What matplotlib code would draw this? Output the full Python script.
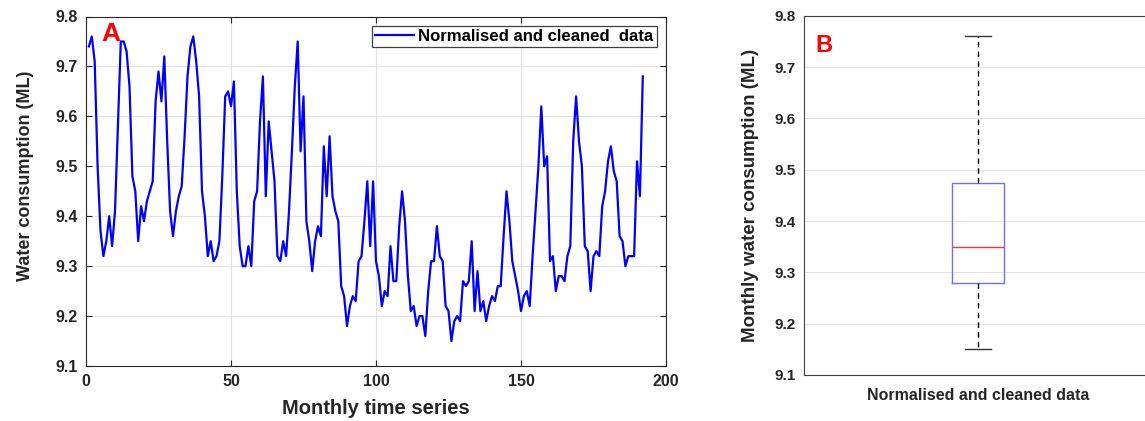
import matplotlib
matplotlib.use("Agg")
import matplotlib.pyplot as plt
import numpy as np

# ---- data ----
months = list(range(1, 193))
consumption = [
    9.74, 9.76, 9.71, 9.50, 9.37, 9.32, 9.35, 9.40, 9.34, 9.41,
    9.58, 9.75, 9.75, 9.73, 9.66, 9.48, 9.45, 9.35, 9.42, 9.39,
    9.43, 9.45, 9.47, 9.63, 9.69, 9.63, 9.72, 9.55, 9.41, 9.36,
    9.41, 9.44, 9.46, 9.56, 9.68, 9.74, 9.76, 9.71, 9.64, 9.45,
    9.40, 9.32, 9.35, 9.31, 9.32, 9.35, 9.48, 9.64, 9.65, 9.62,
    9.67, 9.45, 9.34, 9.30, 9.30, 9.34, 9.30, 9.43, 9.45, 9.59,
    9.68, 9.44, 9.59, 9.53, 9.47, 9.32, 9.31, 9.35, 9.32, 9.41,
    9.53, 9.66, 9.75, 9.53, 9.64, 9.39, 9.35, 9.29, 9.35, 9.38,
    9.36, 9.54, 9.44, 9.56, 9.44, 9.41, 9.39, 9.26, 9.24, 9.18,
    9.22, 9.24, 9.23, 9.31, 9.32, 9.39, 9.47, 9.34, 9.47, 9.31,
    9.28, 9.22, 9.25, 9.24, 9.34, 9.27, 9.27, 9.38, 9.45, 9.39,
    9.28, 9.21, 9.22, 9.18, 9.20, 9.20, 9.16, 9.25, 9.31, 9.31,
    9.38, 9.32, 9.31, 9.22, 9.21, 9.15, 9.19, 9.20, 9.19, 9.27,
    9.26, 9.27, 9.35, 9.21, 9.29, 9.21, 9.23, 9.19, 9.22, 9.24,
    9.23, 9.26, 9.26, 9.36, 9.45, 9.39, 9.31, 9.28, 9.25, 9.21,
    9.24, 9.25, 9.22, 9.32, 9.41, 9.50, 9.62, 9.50, 9.52, 9.31,
    9.32, 9.25, 9.28, 9.28, 9.27, 9.32, 9.34, 9.55, 9.64, 9.55,
    9.50, 9.34, 9.33, 9.25, 9.32, 9.33, 9.32, 9.42, 9.45, 9.51,
    9.54, 9.49, 9.47, 9.36, 9.35, 9.30, 9.32, 9.32, 9.32, 9.51,
    9.44, 9.68,
]
series_label = "Normalised and cleaned  data"
box_label = "Normalised and cleaned data"
box_whislo = 9.15
box_q1 = 9.28
box_med = 9.35
box_q3 = 9.475
box_whishi = 9.76
yticks = [9.1, 9.2, 9.3, 9.4, 9.5, 9.6, 9.7, 9.8]
xticks_a = [0, 50, 100, 150, 200]

plt.rcParams['font.family'] = ['Liberation Sans', 'DejaVu Sans']
axcol = '#262626'
gridcol = '#e3e3e3'

fig = plt.figure(figsize=(11.45, 4.21), dpi=100)

# ---- Panel A ----
ax = fig.add_axes([86/1145, 1-366/421, 580/1145, 349.5/421])
ax.plot(months, consumption, color='#0000ff', lw=1.6, label=series_label)
ax.set_xlim(0, 200)
ax.set_ylim(9.1, 9.8)
ax.set_xticks(xticks_a)
ax.set_yticks(yticks)
ax.set_yticklabels([f"{v:.1f}" for v in yticks])
ax.grid(True, color=gridcol, lw=0.8)
ax.set_axisbelow(True)
for s in ax.spines.values():
    s.set_color(axcol)
    s.set_linewidth(0.8)
ax.tick_params(direction='in', length=4, width=0.8, color=axcol,
               top=True, right=True, labelsize=11.5, labelcolor='#262626', pad=6)
for lab in ax.get_xticklabels() + ax.get_yticklabels():
    lab.set_fontweight('bold')
ax.set_xlabel("Monthly time series", fontsize=14.5, fontweight='bold', color='#262626', labelpad=7)
ax.set_ylabel("Water consumption (ML)", fontsize=13, fontweight='bold', color='#262626')
ax.yaxis.set_label_coords(-0.09, 0.545)
leg = ax.legend(loc='upper right', prop={'weight': 'bold', 'size': 12.1},
                fancybox=False, edgecolor='#404040', framealpha=1,
                handlelength=2.3, handletextpad=0.25, borderpad=0.2,
                borderaxespad=0.55)
leg.get_frame().set_linewidth(0.9)
ax.annotate("A", xy=(0.026, 0.985), xycoords='axes fraction', ha='left', va='top',
            fontsize=19, fontweight='bold', color='#ff0000')

# ---- Panel B ----
bx = fig.add_axes([804/1145, 1-375/421, 348/1145, 359.3/421])
stats = [dict(med=box_med, q1=box_q1, q3=box_q3, whislo=box_whislo,
              whishi=box_whishi, label=box_label, fliers=[])]
bx.bxp(stats, positions=[1], widths=0.15, showfliers=False,
       boxprops=dict(color='#6f6fff', lw=1.0),
       medianprops=dict(color='#ff3030', lw=1.0),
       whiskerprops=dict(color='black', lw=1.0, linestyle=(0, (4, 3))),
       capprops=dict(color='#333333', lw=1.0), capwidths=0.075)
bx.set_xlim(0.5, 1.5)
bx.set_ylim(9.1, 9.8)
bx.set_yticks(yticks)
bx.set_yticklabels([f"{v:.1f}" for v in yticks])
bx.yaxis.grid(True, color=gridcol, lw=0.8)
bx.set_axisbelow(True)
for s in bx.spines.values():
    s.set_color('#404040')
    s.set_linewidth(0.8)
bx.tick_params(axis='both', length=0, labelsize=11, labelcolor='#262626', pad=6)
for lab in bx.get_yticklabels():
    lab.set_fontweight('bold')
for lab in bx.get_xticklabels():
    lab.set_fontweight('bold')
    lab.set_fontsize(11.5)
bx.tick_params(axis='x', pad=9)
bx.set_ylabel("Monthly water consumption (ML)", fontsize=13.5, fontweight='bold',
              color='#262626', labelpad=11)
bx.annotate("B", xy=(0.033, 0.95), xycoords='axes fraction', ha='left', va='top',
            fontsize=17, fontweight='bold', color='#ff0000')

fig.savefig("out.png", dpi=100)
